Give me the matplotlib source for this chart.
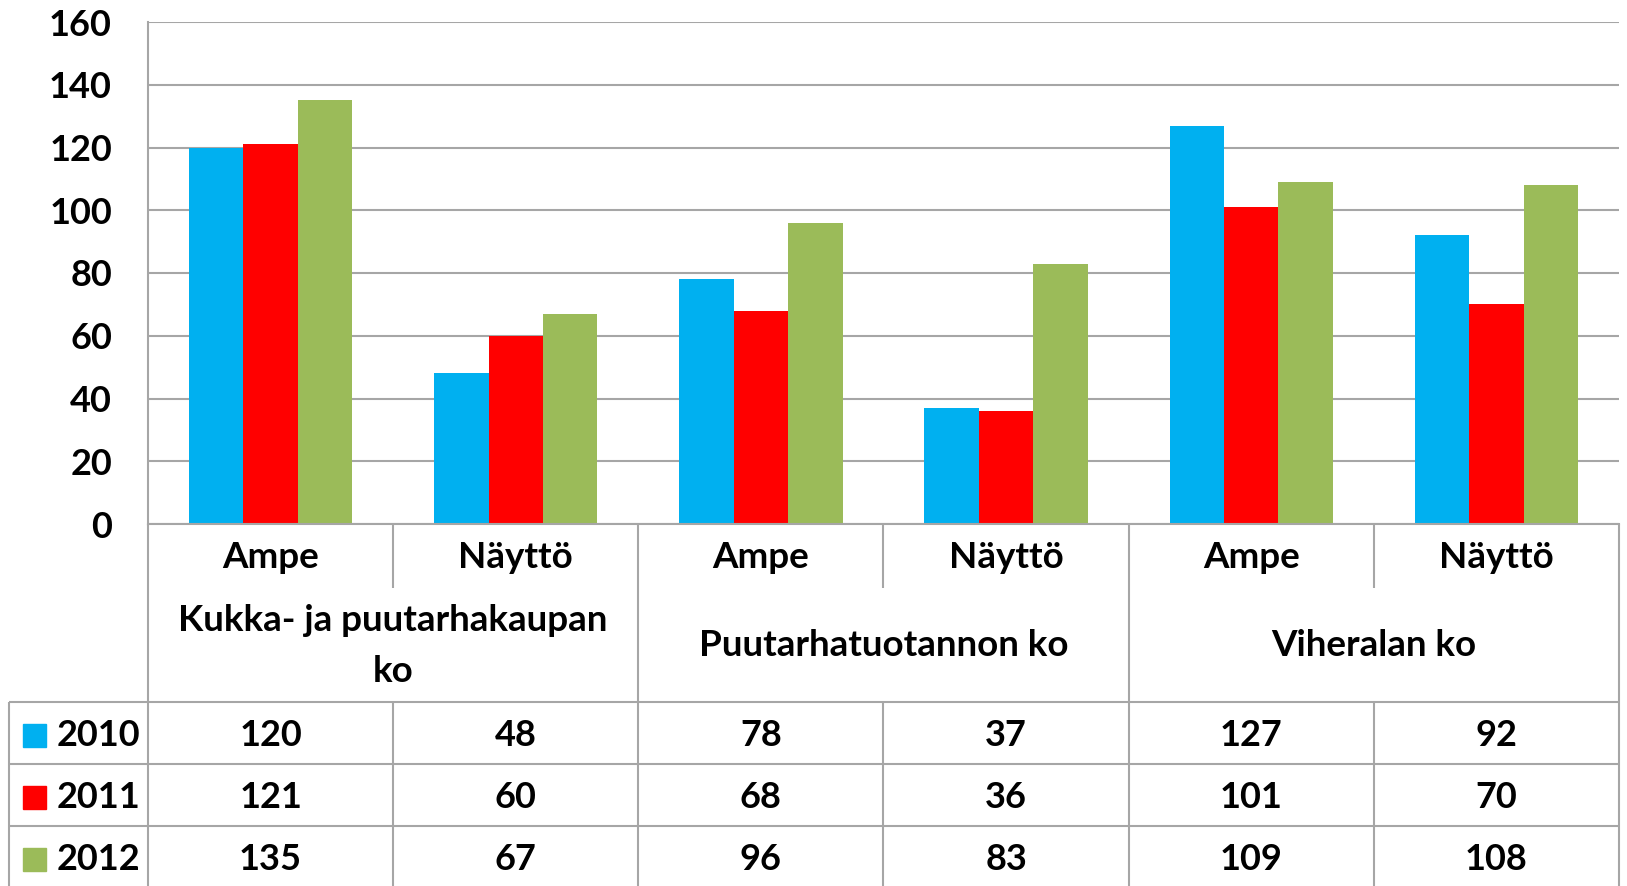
import numpy as np
from matplotlib import pyplot as plt
from matplotlib.patches import Rectangle

plt.rcParams['font.family'] = ['Lato', 'DejaVu Sans']
plt.rcParams['font.weight'] = 'bold'

# data
groups = ["Kukka- ja puutarhakaupan\nko", "Puutarhatuotannon ko", "Viheralan ko"]
subcats = ["Ampe", "Näyttö", "Ampe", "Näyttö", "Ampe", "Näyttö"]
years = ["2010", "2011", "2012"]
v2010 = [120, 48, 78, 37, 127, 92]
v2011 = [121, 60, 68, 36, 101, 70]
v2012 = [135, 67, 96, 83, 109, 108]
colors = ["#00B0F0", "#FF0000", "#9BBB59"]
series = [v2010, v2011, v2012]

W, H = 1627, 886
GRID = "#A6A6A6"
LW = 1.5

fig = plt.figure(figsize=(W / 100, H / 100), dpi=100)

# plot area in pixels
left, right, top, bottom = 148, 1619, 22, 524
ax = fig.add_axes([left / W, (H - bottom) / H, (right - left) / W, (bottom - top) / H])

x = np.arange(len(subcats))
bw = 1 / 4.5
for i, vals in enumerate(series):
    ax.bar(x + (i - 1) * bw, vals, bw, color=colors[i], zorder=2)

ax.set_xlim(-0.5, len(subcats) - 0.5)
ax.set_ylim(0, 160)
ax.set_yticks(range(0, 161, 20))
ax.yaxis.grid(True, color=GRID, lw=LW)
ax.set_axisbelow(True)
ax.set_xticks([])
for s in ["top", "right"]:
    ax.spines[s].set_visible(False)
for s in ["left", "bottom"]:
    ax.spines[s].set_color(GRID)
    ax.spines[s].set_linewidth(LW)
ax.tick_params(axis="y", length=0, pad=26, labelsize=26)

# table below the chart, same x units as the bars
colw = (right - left) / len(subcats)
tleft = 9
x0 = -0.5 - (left - tleft) / colw
xr = len(subcats) - 0.5
tab = fig.add_axes([tleft / W, 0, (right - tleft) / W, (H - bottom) / H])
tab.set_xlim(x0, xr)
tab.set_ylim(H, bottom)
tab.axis("off")

row_hdr = (bottom, 588)
row_grp = (588, 702)
data_rows = [(702, 764), (764, 826), (826, 888)]

def hline(y, xa, xb):
    tab.plot([xa, xb], [y, y], color=GRID, lw=LW, clip_on=False, solid_capstyle="butt")

def vline(xx, ya, yb):
    tab.plot([xx, xx], [ya, yb], color=GRID, lw=LW, clip_on=False, solid_capstyle="butt")

for r in data_rows:
    hline(r[0], x0, xr)
vline(x0, 702, H)
for k in range(len(subcats) + 1):
    xx = k - 0.5
    if k % 2 == 0:
        vline(xx, bottom, H)
    else:
        vline(xx, row_hdr[0], row_hdr[1])
        vline(xx, 702, H)

ts = 26.5
for k, name in enumerate(subcats):
    tab.text(k, sum(row_hdr) / 2 + 2, name, ha="center", va="center", fontsize=ts)
for g, name in enumerate(groups):
    tab.text(2 * g + 0.5, sum(row_grp) / 2 + 1, name, ha="center", va="center",
             fontsize=ts, linespacing=1.65)

for i, (yr, vals) in enumerate(zip(years, series)):
    y0, y1 = data_rows[i]
    yc = (y0 + y1) / 2 + 2
    sq = 23 / colw
    tab.add_patch(Rectangle((x0 + 14 / colw, yc - 11.5), sq, 23, color=colors[i], clip_on=False))
    tab.text(x0 + 48 / colw, yc, yr, ha="left", va="center", fontsize=26)
    for k, v in enumerate(vals):
        tab.text(k, yc, str(v), ha="center", va="center", fontsize=26)

fig.savefig("out.png", dpi=100)
